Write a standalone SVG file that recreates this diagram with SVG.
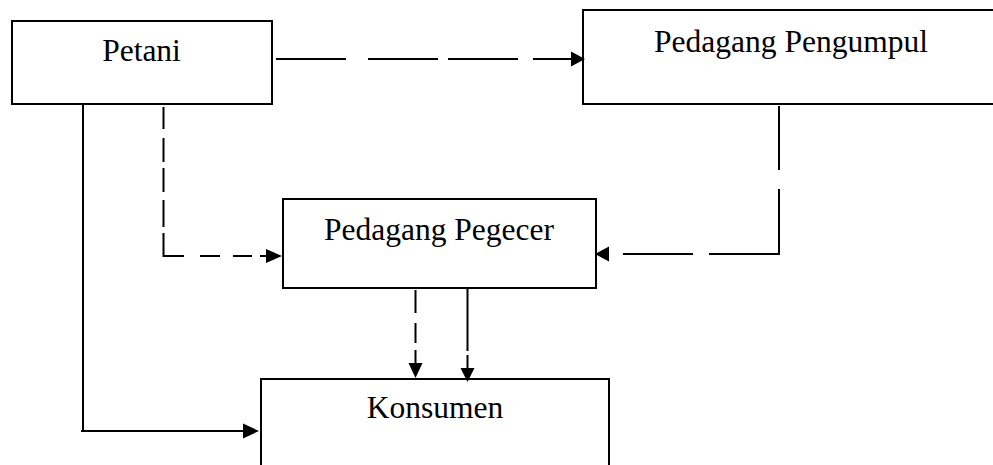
<svg xmlns="http://www.w3.org/2000/svg" width="993" height="465" viewBox="0 0 993 465">
<style>
.box{fill:#fff;stroke:#000;stroke-width:2}
.t{font-family:"Liberation Serif","Times New Roman",serif;font-size:31.5px;fill:#000;text-anchor:middle}
.ln{stroke:#000;stroke-width:2;fill:none}
.ah{fill:#000;stroke:none}
</style>
<rect width="993" height="465" fill="#fff"/>
<g id="petani">
<rect class="box" x="12" y="21" width="260" height="83"/>
<text class="t" x="141.5" y="61">Petani</text>
</g>
<g id="pedagang-pengumpul">
<rect class="box" x="583" y="10" width="420" height="94"/>
<text class="t" x="791" y="52">Pedagang Pengumpul</text>
</g>
<g id="pedagang-pegecer">
<rect class="box" x="283" y="199" width="313" height="89"/>
<text class="t" x="439" y="240">Pedagang Pegecer</text>
</g>
<g id="konsumen">
<rect class="box" x="261" y="379" width="348" height="100"/>
<text class="t" x="435" y="418">Konsumen</text>
</g>
<g id="connectors">
<!-- Petani -> Pengumpul (dashed) -->
<path class="ln" d="M276 59H346M368 59H438M448 59H518M533 59H572"/>
<polygon class="ah" points="571,51.5 585,59 571,66.5"/>
<!-- Pengumpul -> Pegecer (dashed) -->
<path class="ln" d="M779 106V170M779 189V254H709M693 254H623"/>
<polygon class="ah" points="609,246.5 595,254 609,261.5"/>
<!-- Petani -> Pegecer (dashed) -->
<path class="ln" d="M163.5 107V129M163.5 138V162M163.5 168V192M163.5 200V227M163.5 233V256H184M200 256H220M233 256H252M260 256H267"/>
<polygon class="ah" points="266,249 282,256 266,263"/>
<!-- Petani -> Konsumen (solid) -->
<path class="ln" d="M83 104V431M81 431H244"/>
<polygon class="ah" points="243,423.5 259,431 243,438.5"/>
<!-- Pegecer -> Konsumen (dashed) -->
<path class="ln" d="M415.5 290V313M415.5 323V343M415.5 350V364"/>
<polygon class="ah" points="408.5,363 422.5,363 415.5,378"/>
<!-- Pegecer -> Konsumen (solid) -->
<path class="ln" d="M467.5 289V351M467.5 355V369"/>
<polygon class="ah" points="460.5,368 474.5,368 467.5,382"/>
</g>
</svg>
